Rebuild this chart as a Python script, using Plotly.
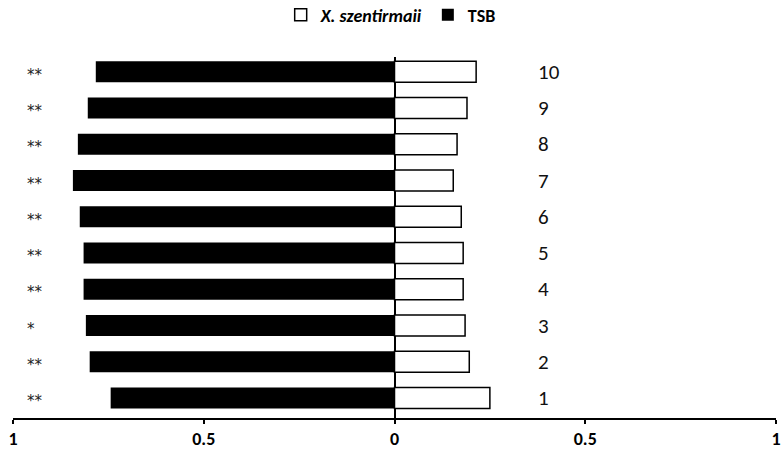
import plotly.graph_objects as go

categories = [1, 2, 3, 4, 5, 6, 7, 8, 9, 10]
cat_labels = ["1", "2", "3", "4", "5", "6", "7", "8", "9", "10"]
tsb = [0.744, 0.799, 0.809, 0.815, 0.815, 0.825, 0.843, 0.830, 0.804, 0.783]
xsz = [0.250, 0.196, 0.185, 0.180, 0.180, 0.175, 0.154, 0.164, 0.190, 0.214]
signif = ["**", "**", "*", "**", "**", "**", "**", "**", "**", "**"]
tick_vals = [-1, -0.5, 0, 0.5, 1]
tick_text = ["1", "0.5", "0", "0.5", "1"]

FONT = "Carlito, Lato, sans-serif"
STAR_FONT = "DejaVu Sans, sans-serif"

fig = go.Figure()
fig.add_trace(go.Bar(
    y=categories, x=xsz, orientation="h", name="<b><i>X. szentirmaii</i></b>",
    marker=dict(color="white", line=dict(color="black", width=1.5)), width=0.58,
))
fig.add_trace(go.Bar(
    y=categories, x=[-v for v in tsb], orientation="h", name="<b>TSB</b>",
    marker=dict(color="black", line=dict(color="black", width=0)), width=0.58,
))

for c, lab in zip(categories, cat_labels):
    fig.add_annotation(x=0.372, y=c, text=lab, showarrow=False, xanchor="left",
                       yanchor="middle", font=dict(family=FONT, size=21, color="#111"))
for c, s in zip(categories, signif):
    fig.add_annotation(x=-0.968, y=c, text=s, showarrow=False, xanchor="left",
                       yanchor="middle", yshift=-3, font=dict(family=STAR_FONT, size=15, color="#222"))

fig.update_layout(
    width=782, height=454,
    margin=dict(l=13, r=6, t=57, b=36, autoexpand=False),
    plot_bgcolor="white", paper_bgcolor="white",
    barmode="overlay",
    showlegend=True,
    legend=dict(orientation="h", x=0.495, xanchor="center", y=1 - 15 / 454, yanchor="middle",
                yref="container",
                font=dict(family=FONT, size=18, color="black"), itemwidth=30,
                traceorder="normal"),
    xaxis=dict(range=[-1, 1], tickvals=tick_vals, ticktext=tick_text,
               showline=True, linecolor="black", linewidth=1.5,
               ticks="outside", ticklen=4, tickwidth=1.5, tickcolor="black",
               showgrid=False, zeroline=True, zerolinecolor="black", zerolinewidth=1.5,
               tickfont=dict(family=FONT, size=18, color="black", weight="bold"),
               automargin=False, fixedrange=True),
    yaxis=dict(range=[0.45, 10.41], showticklabels=False, showgrid=False,
               zeroline=False, showline=False, ticks="", automargin=False, fixedrange=True),
)

fig.write_html("out.html")
